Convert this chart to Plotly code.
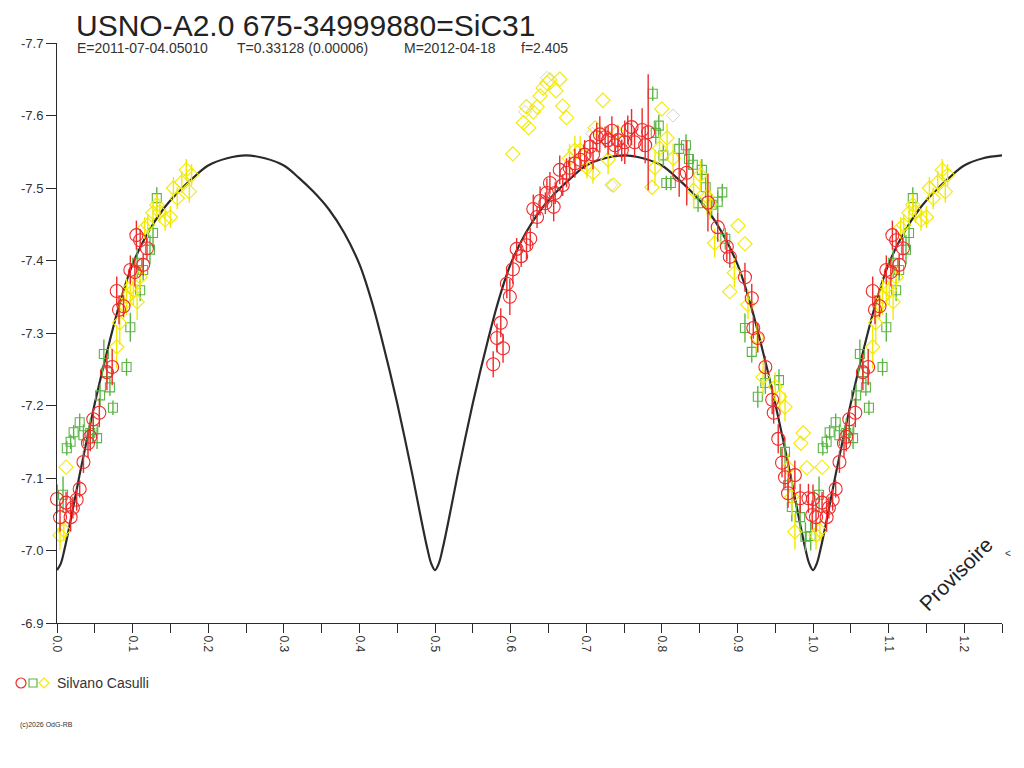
import plotly.graph_objects as go

# ---- data ----
# model light curve (phase, magnitude)
curve_phase = [0.00, 0.005, 0.01, 0.02, 0.03, 0.04, 0.05, 0.06, 0.07, 0.08, 0.09, 0.10, 0.12, 0.14, 0.16, 0.18, 0.20,
               0.225, 0.25, 0.275, 0.30, 0.32, 0.34, 0.36, 0.38, 0.40, 0.41, 0.42, 0.43, 0.44, 0.45, 0.46, 0.47, 0.48,
               0.49, 0.495, 0.50, 0.505, 0.51, 0.52, 0.53, 0.54, 0.55, 0.56, 0.57, 0.58, 0.59, 0.60, 0.62, 0.64, 0.66,
               0.68, 0.70, 0.725, 0.75, 0.775, 0.80, 0.82, 0.84, 0.86, 0.88, 0.90, 0.91, 0.92, 0.93, 0.94, 0.95, 0.96,
               0.97, 0.98, 0.99, 0.995, 1.00, 1.005, 1.01, 1.02, 1.03, 1.04, 1.05, 1.06, 1.07, 1.08, 1.09, 1.10, 1.12,
               1.14, 1.16, 1.18, 1.20, 1.225, 1.25]
curve_mag = [-6.973, -6.982, -7.002, -7.052, -7.105, -7.155, -7.203, -7.248, -7.290, -7.330, -7.365, -7.395, -7.438,
             -7.470, -7.494, -7.514, -7.531, -7.541,
             -7.545, -7.541, -7.531, -7.514, -7.494, -7.470, -7.438, -7.395, -7.365, -7.330, -7.290, -7.248, -7.203,
             -7.155, -7.105, -7.052, -7.002, -6.982,
             -6.973, -6.982, -7.002, -7.052, -7.105, -7.155, -7.203, -7.248, -7.290, -7.330, -7.365, -7.395, -7.438,
             -7.470, -7.494, -7.514, -7.531, -7.541,
             -7.545, -7.541, -7.531, -7.514, -7.494, -7.470, -7.438, -7.395, -7.365, -7.330, -7.290, -7.248, -7.203,
             -7.155, -7.105, -7.052, -7.002, -6.982,
             -6.973, -6.982, -7.002, -7.052, -7.105, -7.155, -7.203, -7.248, -7.290, -7.330, -7.365, -7.395, -7.438,
             -7.470, -7.494, -7.514, -7.531, -7.541,
             -7.545]

# red circles
red_phase = [0.000, 0.004, 0.012, 0.018, 0.021, 0.026, 0.030, 0.035, 0.041, 0.044, 0.048, 0.056, 0.066, 0.073,
             0.079, 0.082, 0.088, 0.097, 0.103, 0.105, 0.110, 0.114, 0.119,
             0.577, 0.582, 0.590, 0.587, 0.599, 0.595, 0.603, 0.608, 0.614, 0.621, 0.626, 0.630, 0.635, 0.639,
             0.646, 0.648, 0.652, 0.657, 0.659, 0.665, 0.669, 0.674, 0.678, 0.685, 0.692, 0.698, 0.705, 0.709,
             0.714, 0.718, 0.725, 0.729, 0.734, 0.738, 0.742, 0.747, 0.751, 0.755, 0.760, 0.764, 0.774, 0.778,
             0.782, 0.823, 0.833, 0.861, 0.874, 0.886, 0.890, 0.910, 0.919, 0.921, 0.927, 0.937, 0.946, 0.948,
             0.954, 0.959, 0.963, 0.976, 0.967, 0.983, 0.994, 0.999]
red_mag = [-7.071, -7.046, -7.066, -7.046, -7.059, -7.070, -7.085, -7.122, -7.148, -7.157, -7.181, -7.190, -7.246,
           -7.253, -7.358, -7.332, -7.337, -7.387, -7.384, -7.435, -7.428, -7.394, -7.417,
           -7.257, -7.293, -7.279, -7.314, -7.350, -7.368, -7.388, -7.416, -7.406, -7.421, -7.430, -7.471, -7.460,
           -7.482, -7.479, -7.493, -7.507, -7.474, -7.493, -7.525, -7.504, -7.521, -7.528, -7.534, -7.539, -7.546,
           -7.557, -7.546, -7.570, -7.574, -7.570, -7.566, -7.579, -7.559, -7.566, -7.552, -7.563, -7.580, -7.584,
           -7.563, -7.580, -7.559, -7.577, -7.518, -7.521, -7.480, -7.446, -7.419, -7.405, -7.377, -7.348, -7.307,
           -7.293, -7.253, -7.208, -7.190, -7.154, -7.121, -7.101, -7.104, -7.079, -7.072, -7.072, -7.049]
red_err = [0.020, 0.020, 0.015, 0.020, 0.015, 0.015, 0.012, 0.015, 0.020, 0.020, 0.015, 0.020, 0.025, 0.025,
           0.020, 0.020, 0.015, 0.020, 0.020, 0.020, 0.015, 0.015, 0.015,
           0.018, 0.020, 0.020, 0.020, 0.025, 0.020, 0.020, 0.015, 0.015, 0.020, 0.015, 0.020, 0.015, 0.020,
           0.015, 0.020, 0.015, 0.020, 0.015, 0.020, 0.015, 0.020, 0.015, 0.020, 0.015, 0.020, 0.015, 0.020,
           0.020, 0.025, 0.015, 0.020, 0.020, 0.015, 0.020, 0.015, 0.030, 0.020, 0.025, 0.020, 0.030, 0.025,
           0.080, 0.030, 0.045, 0.040, 0.020, 0.020, 0.015, 0.020, 0.020, 0.015, 0.020, 0.015, 0.020, 0.015,
           0.020, 0.020, 0.015, 0.020, 0.020, 0.020, 0.020, 0.020]

# green squares
green_phase = [0.008, 0.013, 0.018, 0.022, 0.030, 0.035, 0.044, 0.048, 0.053, 0.057, 0.062, 0.066, 0.070, 0.074,
               0.092, 0.097, 0.106, 0.110, 0.114, 0.123, 0.127, 0.132,
               0.788, 0.792, 0.796, 0.802, 0.806, 0.812, 0.823, 0.832, 0.836, 0.841, 0.848, 0.853, 0.858, 0.866,
               0.874, 0.880, 0.884, 0.910, 0.919, 0.927, 0.937, 0.955, 0.963, 0.967, 0.972, 0.983, 0.990, 0.997]
green_mag = [-7.077, -7.141, -7.150, -7.163, -7.177, -7.159, -7.162, -7.166, -7.155, -7.214, -7.271, -7.246,
             -7.225, -7.197, -7.253, -7.308, -7.397, -7.359, -7.387, -7.415, -7.438, -7.486,
             -7.630, -7.576, -7.586, -7.545, -7.507, -7.507, -7.554, -7.559, -7.540, -7.532, -7.479, -7.525, -7.501,
             -7.477, -7.481, -7.494, -7.430, -7.307, -7.274, -7.212, -7.231, -7.235, -7.136, -7.090, -7.060, -7.046,
             -7.019, -7.020]
green_err = [0.025, 0.010, 0.010, 0.010, 0.012, 0.015, 0.020, 0.015, 0.015, 0.015, 0.020, 0.015, 0.012, 0.010,
             0.012, 0.020, 0.020, 0.015, 0.015, 0.020, 0.020, 0.015,
             0.010, 0.015, 0.015, 0.015, 0.010, 0.010, 0.015, 0.015, 0.015, 0.015, 0.012, 0.015, 0.015, 0.015,
             0.015, 0.012, 0.015, 0.020, 0.015, 0.015, 0.015, 0.015, 0.020, 0.020, 0.020, 0.020, 0.020, 0.020]

# yellow diamonds
yellow_phase = [0.004, 0.009, 0.012, 0.079, 0.083, 0.088, 0.092, 0.097, 0.101, 0.106, 0.110, 0.116, 0.120, 0.127,
                0.132, 0.136, 0.143, 0.150, 0.154, 0.159, 0.165, 0.171, 0.175, 0.178,
                0.603, 0.617, 0.624, 0.621, 0.630, 0.635, 0.639, 0.643, 0.648, 0.652, 0.660, 0.665, 0.669, 0.674,
                0.678, 0.685, 0.692, 0.701, 0.709, 0.712, 0.722, 0.729, 0.736, 0.741, 0.787, 0.791, 0.797, 0.800,
                0.807, 0.815, 0.842, 0.851, 0.860, 0.864, 0.870, 0.890, 0.896, 0.901, 0.910, 0.914, 0.926, 0.934,
                0.950, 0.956, 0.963, 0.967, 0.972, 0.976, 0.984, 0.987, 0.992]
yellow_mag = [-7.021, -7.028, -7.115, -7.281, -7.314, -7.339, -7.350, -7.363, -7.359, -7.343, -7.377, -7.445,
              -7.449, -7.466, -7.477, -7.467, -7.456, -7.460, -7.500, -7.486, -7.508, -7.525, -7.495, -7.518,
              -7.547, -7.590, -7.583, -7.612, -7.605, -7.612, -7.627, -7.638, -7.645, -7.649, -7.634, -7.650,
              -7.613, -7.597, -7.541, -7.552, -7.552, -7.528, -7.521, -7.583, -7.621, -7.539, -7.504, -7.577,
              -7.501, -7.528, -7.555, -7.609, -7.569, -7.541, -7.497, -7.518, -7.488, -7.477, -7.424, -7.357,
              -7.383, -7.448, -7.423, -7.339, -7.294, -7.239, -7.226, -7.212, -7.198, -7.114, -7.074, -7.026,
              -7.148, -7.162, -7.114]
yellow_err = [0.020, 0.015, 0.000, 0.030, 0.030, 0.020, 0.025, 0.020, 0.020, 0.025, 0.015, 0.015, 0.015, 0.015,
              0.015, 0.015, 0.015, 0.015, 0.015, 0.015, 0.015, 0.015, 0.015, 0.015,
              0.000, 0.000, 0.000, 0.000, 0.000, 0.000, 0.000, 0.000, 0.000, 0.000, 0.000, 0.000, 0.000, 0.000,
              0.020, 0.020, 0.020, 0.015, 0.015, 0.000, 0.000, 0.020, 0.000, 0.000, 0.000, 0.025, 0.020, 0.000,
              0.020, 0.020, 0.025, 0.020, 0.025, 0.020, 0.020, 0.000, 0.020, 0.000, 0.000, 0.020, 0.020, 0.025,
              0.020, 0.020, 0.020, 0.020, 0.025, 0.025, 0.000, 0.000, 0.000]

# pale grey diamonds (other data)
grey_phase = [0.619, 0.648, 0.708, 0.733, 0.815]
grey_mag = [-7.605, -7.652, -7.575, -7.504, -7.600]

subtitle_parts = ["E=2011-07-04.05010", "T=0.33128 (0.00006)", "M=2012-04-18", "f=2.405"]
subtitle_px = [75, 235, 402, 519]
x_ticks = [0.0, 0.1, 0.2, 0.3, 0.4, 0.5, 0.6, 0.7, 0.8, 0.9, 1.0, 1.1, 1.2]
y_ticks = [-7.7, -7.6, -7.5, -7.4, -7.3, -7.2, -7.1, -7.0, -6.9]

RED = "#ee2a2a"
GREEN = "#5ab544"
YELLOW = "#f2ea00"
GREY = "#d4d4d4"
INK = "#2a2a2a"

# the page body adds an 8 px margin, so the figure is placed 8 px in
OFF = 8
W, H = 1024, 768
L, R, T, B = 57 - OFF, 22 + OFF, 43 - OFF, 145 + OFF


def px(x):
    return (x - OFF - L) / (W - L - R)


def py(y):
    return (H - B - (y - OFF)) / (H - T - B)


def wrap(ph, mg, er=None):
    # points of the first quarter phase are repeated after phase 1
    xs = list(ph) + [p + 1 for p in ph if p + 1 <= 1.25]
    ys = list(mg) + [m for p, m in zip(ph, mg) if p + 1 <= 1.25]
    es = None
    if er is not None:
        es = list(er) + [e for p, e in zip(ph, er) if p + 1 <= 1.25]
    return xs, ys, es


fig = go.Figure()

fig.add_trace(go.Scatter(x=curve_phase, y=curve_mag, mode="lines", line_shape="spline",
                         line=dict(color=INK, width=2.2), hoverinfo="skip"))

gx, gy, _ = wrap(grey_phase, grey_mag)
fig.add_trace(go.Scatter(x=gx, y=gy, mode="markers",
                         marker=dict(symbol="diamond-open", size=10, color=GREY, line=dict(width=1))))

for ph, mg, er, col, sym, size in [
    (green_phase, green_mag, green_err, GREEN, "square-open", 9),
    (yellow_phase, yellow_mag, yellow_err, YELLOW, "diamond-open", 11),
    (red_phase, red_mag, red_err, RED, "circle-open", 13),
]:
    xs, ys, es = wrap(ph, mg, er)
    fig.add_trace(go.Scatter(
        x=xs, y=ys, mode="markers", cliponaxis=False,
        marker=dict(symbol=sym, size=size, color=col, line=dict(width=1.1, color=col)),
        error_y=dict(type="data", array=es, visible=True, color=col, thickness=1.4, width=0),
    ))

fig.update_layout(
    width=W, height=H,
    margin=dict(l=L, r=R, t=T, b=B),
    paper_bgcolor="white", plot_bgcolor="white",
    showlegend=False,
    font=dict(family="Liberation Sans, Arial, sans-serif", color=INK, size=12),
)

fig.update_xaxes(
    range=[0, 1.25], showgrid=False, zeroline=False,
    showline=True, linecolor=INK, linewidth=1,
    ticks="outside", ticklen=9, tickcolor=INK, tickwidth=1,
    tickvals=x_ticks, ticktext=["%.1f" % v for v in x_ticks], tickangle=90,
    minor=dict(dtick=0.05, tick0=0, ticks="outside", ticklen=9, tickcolor=INK, tickwidth=1),
    tickfont=dict(size=12, color="#333333"),
)
fig.update_yaxes(
    range=[-6.9, -7.7], showgrid=False, zeroline=False,
    showline=True, linecolor=INK, linewidth=1,
    ticks="outside", ticklen=10, tickcolor=INK, tickwidth=1,
    tickvals=y_ticks, ticktext=["%.1f" % v for v in y_ticks],
    tickfont=dict(size=13, color="#333333"),
)

ann = [
    dict(x=px(75), y=py(8), text="USNO-A2.0 675-34999880=SiC31", xanchor="left", yanchor="top",
         font=dict(size=30, color="#222222"), borderpad=0),
    dict(x=px(955), y=py(574), text="Provisoire", textangle=-45, xanchor="center", yanchor="middle",
         font=dict(size=21, color="#222222")),
    dict(x=px(55), y=py(683), text="Silvano Casulli", xanchor="left", yanchor="middle",
         font=dict(size=14, color="#333333")),
    dict(x=px(18), y=py(725), text="(c)2026 OdG-RB", xanchor="left", yanchor="middle",
         font=dict(size=7, color="#333333")),
    dict(x=px(1008), y=py(553), text="&lt;", xanchor="center", yanchor="middle",
         font=dict(size=10, color="#333333")),
]
for t, xp in zip(subtitle_parts, subtitle_px):
    ann.append(dict(x=px(xp), y=py(48), text=t, xanchor="left", yanchor="middle",
                    font=dict(size=14, color="#333333")))
for a in ann:
    a.update(xref="paper", yref="paper", showarrow=False)
fig.update_layout(annotations=ann)

# legend symbols drawn below the chart
fig.update_layout(shapes=[
    dict(type="circle", xref="paper", yref="paper", x0=px(16), x1=px(26), y0=py(688), y1=py(678),
         line=dict(color=RED, width=1.2)),
    dict(type="rect", xref="paper", yref="paper", x0=px(29), x1=px(37), y0=py(687), y1=py(679),
         line=dict(color=GREEN, width=1.2)),
    dict(type="path", xref="paper", yref="paper",
         path="M %f %f L %f %f L %f %f L %f %f Z" % (px(44), py(678), px(49), py(683), px(44), py(688),
                                                    px(39), py(683)),
         line=dict(color=YELLOW, width=1.2)),
])

fig.write_html("out.html")
